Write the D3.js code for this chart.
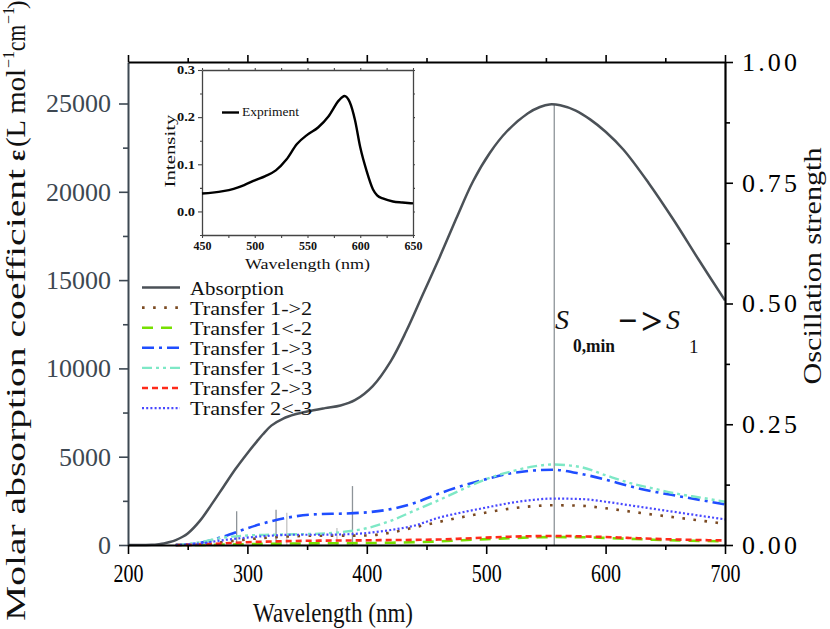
<!DOCTYPE html>
<html><head><meta charset="utf-8">
<script src="https://cdn.jsdelivr.net/npm/d3@7"></script>
<style>body{margin:0;background:#fff;} svg{display:block;}</style>
</head><body>
<svg id="c" width="830" height="629"></svg>
<script>
// ---------------- DATA ----------------
const absWavelength = [200,210,220,226,230,235,240,245,250,260,270,280,290,300,308,313,320,330,340,350,365,378,390,405,420,433,447,461,475,489,503,517,535,545,553,562,575,587,600,615,636,657,678,700];
const absorption    = [0,0,10,50,90,170,280,440,650,1350,2300,3300,4300,5200,5870,6270,6760,7160,7400,7560,7750,7900,8200,9000,10400,12100,14200,16300,18500,20600,22200,23400,24450,24800,24950,24900,24600,24100,23400,22380,20500,18400,16150,13850];

const trWavelength = [240,260,280,300,320,340,360,380,400,420,440,460,480,500,520,540,556,580,600,620,640,660,680,700];
const transfer12  = [0,20,170,320,430,500,530,530,540,700,1000,1300,1580,1840,2060,2200,2250,2220,2080,1900,1720,1550,1380,1200];
const transfer1l2 = [0,0,20,50,70,85,95,100,110,130,160,200,270,330,390,430,450,440,400,350,300,260,230,210];
const transfer13  = [0,120,480,950,1350,1620,1750,1780,1850,2030,2380,2900,3350,3730,4050,4220,4260,4020,3700,3330,3030,2780,2540,2300];
const transfer1l3 = [0,150,420,540,580,610,640,740,950,1370,1950,2530,3150,3730,4150,4450,4560,4400,3950,3520,3200,2900,2680,2450];
const transfer23  = [0,20,90,160,200,230,245,255,265,280,290,310,360,420,470,500,510,490,450,400,350,310,280,260];
const transfer2l3 = [0,80,280,420,530,580,580,600,680,850,1100,1540,1850,2120,2380,2560,2630,2600,2450,2250,2050,1850,1650,1450];

const stickWavelength = [291,324,333,375,388,557];
const stickStrength   = [0.070,0.073,0.067,0.035,0.122,0.911];

const insetWavelength = [450,460,470,480,490,500,510,520,530,540,550,560,570,580,585,590,595,600,606,612,616,622,631,640,650];
const insetIntensity  = [0.038,0.040,0.043,0.048,0.056,0.066,0.075,0.087,0.110,0.143,0.163,0.178,0.202,0.236,0.245,0.232,0.194,0.136,0.086,0.047,0.034,0.027,0.021,0.019,0.017];

const xTicks = [200,300,400,500,600,700];
const xMinor = [250,350,450,550,650];
const leftTicks = [0,5000,10000,15000,20000,25000];
const leftMinor = [2500,7500,12500,17500,22500];
const rightTicks = [0,0.25,0.5,0.75,1.0];
const rightMinor = [0.125,0.375,0.625,0.875];
const insetXTicks = [450,500,550,600,650];
const insetXMinor = [475,525,575,625];
const insetYTicks = [0.0,0.1,0.2,0.3];
const insetYMinor = [-0.05,0.05,0.15,0.25];

const legendLabels = ['Absorption','Transfer 1->2','Transfer 1<-2','Transfer 1->3','Transfer 1<-3','Transfer 2->3','Transfer 2<-3'];

// ---------------- DRAW ----------------
const SERIF = "'Liberation Serif','DejaVu Serif',serif";
const svg = d3.select('#c');
const x = d3.scaleLinear().domain([200,700]).range([128,725]);
const y = d3.scaleLinear().domain([0,27350]).range([545,62]);
const yR = d3.scaleLinear().domain([0,1]).range([545,62]);

const leftColor = '#3d4852';
const absColor = '#4b5157';

const seriesStyles = [
  {data: absorption, wl: absWavelength, color: absColor, w: 2.5, dash: null, curve: d3.curveCatmullRom.alpha(0.5)},
  {data: transfer12, wl: trWavelength, color: '#7b4a22', w: 2.6, dash: '2.6,8.5'},
  {data: transfer1l2, wl: trWavelength, color: '#77e000', w: 2.6, dash: '11,8'},
  {data: transfer13, wl: trWavelength, color: '#1f4dff', w: 2.6, dash: '12,5,3,5'},
  {data: transfer1l3, wl: trWavelength, color: '#7ee8c6', w: 2.4, dash: '10,4,3,4,3,4'},
  {data: transfer23, wl: trWavelength, color: '#ff2a1a', w: 2.6, dash: '6,4'},
  {data: transfer2l3, wl: trWavelength, color: '#4848ff', w: 2.2, dash: '2,2.2'}
];

// sticks
svg.append('g').selectAll('line').data(stickWavelength).join('line')
  .attr('x1', d => x(d)).attr('x2', d => x(d))
  .attr('y1', yR(0)).attr('y2', (d,i) => yR(stickStrength[i]))
  .attr('stroke', (d,i) => (i===2||i===3) ? '#c4c4c4' : '#8e9499').attr('stroke-width', 1.3);

// curves (transfer first, absorption last)
const lineGen = (wl, c) => d3.line().x((d,i) => x(wl[i])).y(d => y(d)).curve(c || d3.curveMonotoneX);
seriesStyles.slice(1).concat([seriesStyles[0]]).forEach(s => {
  svg.append('path').datum(s.data)
    .attr('d', lineGen(s.wl, s.curve))
    .attr('fill','none').attr('stroke', s.color).attr('stroke-width', s.w)
    .attr('stroke-dasharray', s.dash);
});

// axes
function styleAxis(g, color, sw){
  g.select('.domain').attr('stroke', color).attr('stroke-width', sw);
  g.selectAll('.tick line').attr('stroke', color).attr('stroke-width', 1.6);
}
// left
const gL = svg.append('g').attr('transform','translate(128,0)')
  .call(d3.axisLeft(y).tickValues(leftTicks).tickSize(9).tickPadding(8).tickSizeOuter(0).tickFormat(d3.format('d')));
styleAxis(gL, leftColor, 2);
gL.selectAll('text').attr('font-family',SERIF).attr('font-size',26).attr('fill',leftColor);
const gLm = svg.append('g').attr('transform','translate(128,0)')
  .call(d3.axisLeft(y).tickValues(leftMinor).tickSize(5).tickFormat(''));
gLm.select('.domain').remove(); gLm.selectAll('.tick line').attr('stroke',leftColor).attr('stroke-width',1.6);

// bottom
const gB = svg.append('g').attr('transform','translate(0,545)')
  .call(d3.axisBottom(x).tickValues(xTicks).tickSize(9).tickPadding(10).tickSizeOuter(0));
styleAxis(gB, '#000', 2.2);
gB.selectAll('text').attr('font-family',SERIF).attr('font-size',26).attr('fill','#000')
  .attr('textLength',30).attr('lengthAdjust','spacingAndGlyphs');
const gBm = svg.append('g').attr('transform','translate(0,545)')
  .call(d3.axisBottom(x).tickValues(xMinor).tickSize(5).tickFormat(''));
gBm.select('.domain').remove(); gBm.selectAll('.tick line').attr('stroke','#000').attr('stroke-width',1.6);

// top
const gT = svg.append('g').attr('transform','translate(0,62)')
  .call(d3.axisTop(x).tickValues(xTicks).tickSize(7).tickSizeOuter(0).tickFormat(''));
styleAxis(gT, '#000', 2.2);
const gTm = svg.append('g').attr('transform','translate(0,62)')
  .call(d3.axisTop(x).tickValues(xMinor).tickSize(4).tickFormat(''));
gTm.select('.domain').remove(); gTm.selectAll('.tick line').attr('stroke','#000').attr('stroke-width',1.6);

// right
const gR = svg.append('g').attr('transform','translate(725,0)')
  .call(d3.axisRight(yR).tickValues(rightTicks).tickSize(8).tickPadding(9).tickSizeOuter(0).tickFormat(d3.format('.2f')));
styleAxis(gR, '#000', 2.2);
gR.selectAll('text').attr('font-family',SERIF).attr('font-size',26).attr('fill','#000')
  .attr('textLength',55).attr('lengthAdjust','spacing');
const gRm = svg.append('g').attr('transform','translate(725,0)')
  .call(d3.axisRight(yR).tickValues(rightMinor).tickSize(5).tickFormat(''));
gRm.select('.domain').remove(); gRm.selectAll('.tick line').attr('stroke','#000').attr('stroke-width',1.6);

// axis titles
svg.append('text').attr('x',333).attr('y',622).attr('text-anchor','middle')
  .attr('font-family',SERIF).attr('font-size',28).attr('fill','#111')
  .attr('textLength',160).attr('lengthAdjust','spacingAndGlyphs').text('Wavelength (nm)');

svg.append('g').attr('transform','translate(821,266) rotate(-90)')
  .append('text').attr('text-anchor','middle').attr('font-family',SERIF).attr('font-size',25)
  .attr('fill','#111').attr('textLength',237).attr('lengthAdjust','spacingAndGlyphs').text('Oscillation strength');

const lt = svg.append('g').attr('transform','translate(25,621) rotate(-90)')
  .attr('font-family',SERIF).attr('fill','#111');
lt.append('text').attr('x',0).attr('font-size',28)
  .attr('textLength',452).attr('lengthAdjust','spacingAndGlyphs').text('Molar absorption coefficient');
lt.append('text').attr('x',460).attr('font-size',26).attr('font-weight','bold').text('ε');
lt.append('text').attr('x',474).attr('font-size',28)
  .attr('textLength',78).attr('lengthAdjust','spacingAndGlyphs').text('(L mol');
lt.append('text').attr('x',553).attr('y',-11).attr('font-size',16).text('−1');
lt.append('text').attr('x',570).attr('font-size',28)
  .attr('textLength',26).attr('lengthAdjust','spacingAndGlyphs').text('cm');
lt.append('text').attr('x',597).attr('y',-11).attr('font-size',16).text('−1');
lt.append('text').attr('x',612).attr('font-size',26).text(')');

// legend
const leg = svg.append('g');
legendLabels.forEach((lab,i) => {
  const s = seriesStyles[i];
  const yy = 287.5 + i*20.1;
  leg.append('line').attr('x1',142).attr('x2',180).attr('y1',yy).attr('y2',yy)
    .attr('stroke',s.color).attr('stroke-width',s.w).attr('stroke-dasharray',s.dash);
  leg.append('text').attr('x',190).attr('y',yy+7).attr('font-family',SERIF)
    .attr('font-size',19).attr('fill','#111')
    .attr('textLength',lab.length*9.4).attr('lengthAdjust','spacingAndGlyphs').text(lab);
});

// S0,min -> S1 label
const lbl = svg.append('g').attr('fill','#111').attr('font-family',SERIF);
lbl.append('text').attr('x',555).attr('y',329).attr('font-size',28).attr('font-style','italic').text('S');
lbl.append('text').attr('x',573).attr('y',352).attr('font-size',19).attr('font-weight','bold')
  .attr('textLength',42).attr('lengthAdjust','spacingAndGlyphs').text('0,min');
lbl.append('text').attr('x',618).attr('y',332).attr('font-size',34).attr('font-weight','bold').text('−');
lbl.append('text').attr('x',641).attr('y',334).attr('font-size',38).attr('font-weight','bold').text('>');
lbl.append('text').attr('x',666).attr('y',329).attr('font-size',28).attr('font-style','italic').text('S');
lbl.append('text').attr('x',689).attr('y',353).attr('font-size',19).text('1');

// ---------------- INSET ----------------
const ix = d3.scaleLinear().domain([450,650]).range([202,413]);
const iy = d3.scaleLinear().domain([-0.05,0.3]).range([235,70]);
const ins = svg.append('g');
ins.append('rect').attr('x',202).attr('y',70).attr('width',211).attr('height',165).attr('fill','#fff');

function insAxis(gen, tr, vals, size, fmt){
  const g = ins.append('g').attr('transform',tr).call(gen.tickValues(vals).tickSize(size).tickSizeOuter(0).tickFormat(fmt));
  g.select('.domain').attr('stroke','#444').attr('stroke-width',1.3);
  g.selectAll('.tick line').attr('stroke','#444').attr('stroke-width',1.1);
  return g;
}
const ib = insAxis(d3.axisBottom(ix), 'translate(0,235)', insetXTicks, 3, d3.format('d'));
ib.selectAll('text').attr('font-family',SERIF).attr('font-weight','bold').attr('font-size',12)
  .attr('fill','#111').attr('textLength',18).attr('lengthAdjust','spacingAndGlyphs').attr('dy','0.75em');
insAxis(d3.axisBottom(ix), 'translate(0,235)', insetXMinor, 3, '').select('.domain').remove();
const il = insAxis(d3.axisLeft(iy), 'translate(202,0)', insetYTicks, 4, d3.format('.1f'));
il.selectAll('text').attr('font-family',SERIF).attr('font-weight','bold').attr('font-size',12)
  .attr('fill','#111').attr('textLength',18).attr('lengthAdjust','spacingAndGlyphs');
insAxis(d3.axisLeft(iy), 'translate(202,0)', insetYMinor, 2, '').select('.domain').remove();
insAxis(d3.axisTop(ix), 'translate(0,70)', insetXTicks.concat(insetXMinor), 2, '');
insAxis(d3.axisRight(iy), 'translate(413,0)', insetYTicks.concat(insetYMinor), 2, '');

ins.append('path').datum(insetIntensity)
  .attr('d', d3.line().x((d,i) => ix(insetWavelength[i])).y(d => iy(d)).curve(d3.curveMonotoneX))
  .attr('fill','none').attr('stroke','#000').attr('stroke-width',2.4);

ins.append('line').attr('x1',222).attr('x2',239).attr('y1',112.5).attr('y2',112.5).attr('stroke','#000').attr('stroke-width',2.4);
ins.append('text').attr('x',242).attr('y',116).attr('font-family',SERIF).attr('font-size',13)
  .attr('fill','#111').attr('textLength',57).attr('lengthAdjust','spacingAndGlyphs').text('Expriment');
ins.append('text').attr('x',307.5).attr('y',269).attr('text-anchor','middle').attr('font-family',SERIF)
  .attr('font-size',15).attr('fill','#111').attr('textLength',125).attr('lengthAdjust','spacingAndGlyphs').text('Wavelength (nm)');
ins.append('g').attr('transform','translate(175,151) rotate(-90)')
  .append('text').attr('text-anchor','middle').attr('font-family',SERIF).attr('font-size',15)
  .attr('fill','#111').attr('textLength',73).attr('lengthAdjust','spacingAndGlyphs').text('Intensity');
</script>
</body></html>
